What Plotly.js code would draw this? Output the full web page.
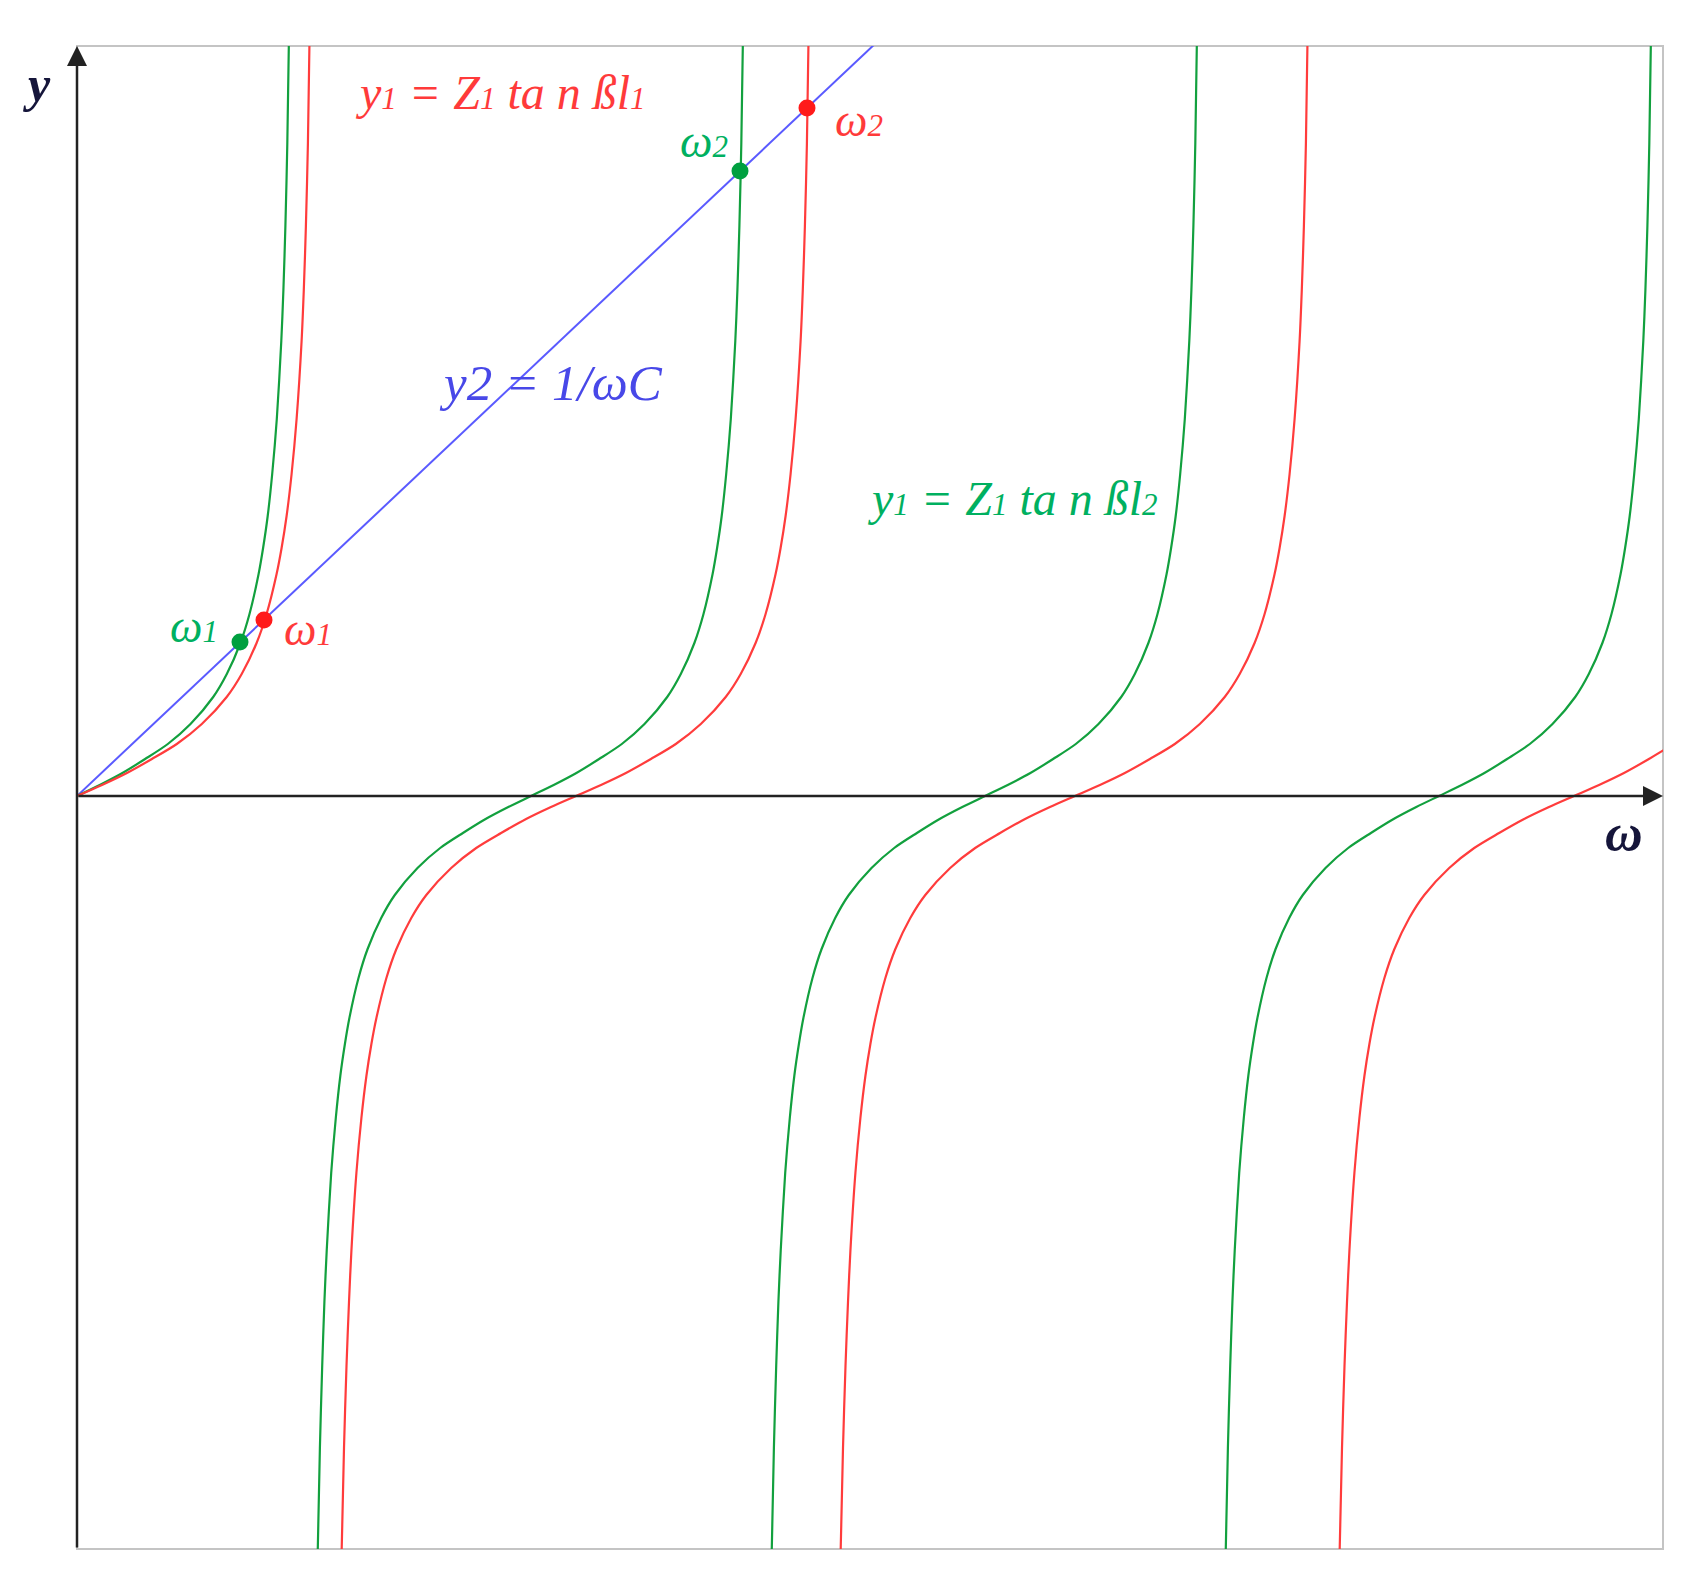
<!DOCTYPE html>
<html>
<head>
<meta charset="utf-8">
<script src="https://cdn.plot.ly/plotly-3.0.1.min.js"></script>
<style>html,body{margin:0;padding:0;background:#fff;}</style>
</head>
<body>
<div id="chart" style="width:1694px;height:1594px;"></div>
<script>
// ---- data (x: frequency ω, y: admittance, arbitrary units) ----
const lineX = [0, 800];
const lineY = [0, 754];

const green1X = [0, 22.7, 45.4, 68.1, 90.8, 113.5, 136.2, 149.8, 163.4, 172.5, 181.6, 186.1, 190.7, 195.2, 199.8, 204.3, 206.4, 208.4, 210.3, 212.0];
const green1Y = [0, 11, 23, 37, 52, 72, 99, 122, 153, 182, 222, 248, 280, 322, 377, 455, 506, 570, 652, 762];

const branchY = [-762, -652, -570, -506, -455, -377, -322, -280, -248, -222, -182, -153, -122, -99, -72, -52, -37, -23, -11, 0, 11, 23, 37, 52, 72, 99, 122, 153, 182, 222, 248, 280, 322, 377, 455, 506, 570, 652, 762];

const green2X = [240.6, 242.9, 245.2, 247.4, 249.7, 254.2, 258.8, 263.3, 267.9, 272.4, 281.5, 290.6, 304.2, 317.8, 340.5, 363.2, 385.9, 408.6, 431.3, 454, 476.7, 499.4, 522.1, 544.8, 567.5, 590.2, 603.8, 617.4, 626.5, 635.6, 640.1, 644.7, 649.2, 653.8, 658.3, 660.4, 662.4, 664.3, 666.0];
const green3X = [694.6, 696.9, 699.2, 701.4, 703.7, 708.2, 712.8, 717.3, 721.9, 726.4, 735.5, 744.6, 758.2, 771.8, 794.5, 817.2, 839.9, 862.6, 885.3, 908, 930.7, 953.4, 976.1, 998.8, 1021.5, 1044.2, 1057.8, 1071.4, 1080.5, 1089.6, 1094.1, 1098.7, 1103.2, 1107.8, 1112.3, 1114.4, 1116.4, 1118.3, 1120.0];
const green4X = [1148.6, 1150.9, 1153.2, 1155.4, 1157.7, 1162.2, 1166.8, 1171.3, 1175.9, 1180.4, 1189.5, 1198.6, 1212.2, 1225.8, 1248.5, 1271.2, 1293.9, 1316.6, 1339.3, 1362, 1384.7, 1407.4, 1430.1, 1452.8, 1475.5, 1498.2, 1511.8, 1525.4, 1534.5, 1543.6, 1548.1, 1552.7, 1557.2, 1561.8, 1566.3, 1568.4, 1570.4, 1572.3, 1574.0];

const red1X = [0, 25, 49.9, 74.9, 99.8, 124.8, 149.7, 164.7, 179.6, 189.6, 199.6, 204.6, 209.6, 214.6, 219.6, 224.6, 226.8, 228.9, 230.9, 232.6];
const red1Y = [0, 11, 23, 37, 52, 72, 99, 122, 153, 182, 222, 248, 280, 322, 377, 455, 506, 570, 652, 762];
const red2X = [264.5, 267.0, 269.5, 272.0, 274.4, 279.4, 284.4, 289.4, 294.4, 299.4, 309.4, 319.4, 334.3, 349.3, 374.2, 399.2, 424.1, 449.1, 474.0, 499, 524.0, 548.9, 573.9, 598.8, 623.8, 648.7, 663.7, 678.6, 688.6, 698.6, 703.6, 708.6, 713.6, 718.6, 723.6, 725.8, 727.9, 729.9, 731.6];
const red3X = [763.5, 766.0, 768.5, 771.0, 773.4, 778.4, 783.4, 788.4, 793.4, 798.4, 808.4, 818.4, 833.3, 848.3, 873.2, 898.2, 923.1, 948.1, 973.0, 998, 1023.0, 1047.9, 1072.9, 1097.8, 1122.8, 1147.7, 1162.7, 1177.6, 1187.6, 1197.6, 1202.6, 1207.6, 1212.6, 1217.6, 1222.6, 1224.8, 1226.9, 1228.9, 1230.6];
const red4X = [1262.5, 1265.0, 1267.5, 1270.0, 1272.4, 1277.4, 1282.4, 1287.4, 1292.4, 1297.4, 1307.4, 1317.4, 1332.3, 1347.3, 1372.2, 1397.2, 1422.1, 1447.1, 1472.0, 1497, 1522.0, 1546.9, 1571.9, 1596.8];
const red4Y = [-762, -652, -570, -506, -455, -377, -322, -280, -248, -222, -182, -153, -122, -99, -72, -52, -37, -23, -11, 0, 11, 23, 37, 52];

const greenDotX = [163, 663];
const greenDotY = [154, 625];
const redDotX = [187, 730];
const redDotY = [176, 688];

// ---- styles ----
const GREEN = '#12a03e';
const RED = '#ff3c3c';
const BLUE = '#5a5aff';
const GREEN_TXT = '#00b060';
const RED_TXT = '#ff3a3a';
const BLUE_TXT = '#4848e8';
const AXIS_TXT = '#15153a';
const FONT = '"Liberation Serif", "DejaVu Serif", serif';

function curve(x, y, color) {
  return {x: x, y: y, type: 'scatter', mode: 'lines', hoverinfo: 'skip',
          line: {color: color, width: 2.2, shape: 'spline', smoothing: 0.8}};
}

const traces = [
  {x: lineX, y: lineY, type: 'scatter', mode: 'lines', hoverinfo: 'skip',
   line: {color: BLUE, width: 2}},
  curve(green1X, green1Y, GREEN),
  curve(green2X, branchY, GREEN),
  curve(green3X, branchY, GREEN),
  curve(green4X, branchY, GREEN),
  curve(red1X, red1Y, RED),
  curve(red2X, branchY, RED),
  curve(red3X, branchY, RED),
  curve(red4X, red4Y, RED),
  {x: greenDotX, y: greenDotY, type: 'scatter', mode: 'markers', hoverinfo: 'skip',
   marker: {color: '#00a040', size: 17}},
  {x: redDotX, y: redDotY, type: 'scatter', mode: 'markers', hoverinfo: 'skip',
   marker: {color: '#ff1a1a', size: 17}}
];

function label(x, y, text, color, size, anchor) {
  return {x: x, y: y, xref: 'x', yref: 'y', text: text, showarrow: false,
          xanchor: anchor || 'center', yanchor: 'middle',
          font: {family: FONT, size: size, color: color, style: 'italic'}};
}
function sm(t, s) { return '<span style="font-size:' + s + 'px">' + t + '</span>'; }

const annotations = [
  // axes with arrowheads
  {x: 0, y: 750, ax: 0, ay: -753, xref: 'x', yref: 'y', axref: 'x', ayref: 'y', text: '',
   showarrow: true, arrowhead: 2, arrowsize: 1.6, arrowwidth: 2.5, arrowcolor: '#222'},
  {x: 1586, y: 0, ax: 0, ay: 0, xref: 'x', yref: 'y', axref: 'x', ayref: 'y', text: '',
   showarrow: true, arrowhead: 2, arrowsize: 1.6, arrowwidth: 2.5, arrowcolor: '#222'},
  // texts
  label(276, 704, 'y' + sm('1', 31) + ' = Z' + sm('1', 31) + ' ta n ßl' + sm('1', 31), RED_TXT, 48, 'left'),
  label(788, 298, 'y' + sm('1', 31) + ' = Z' + sm('1', 31) + ' ta n ßl' + sm('2', 31), GREEN_TXT, 48, 'left'),
  label(360, 413, 'y2 = 1/ωC', BLUE_TXT, 51, 'left'),
  label(627, 655, 'ω' + sm('2', 31), GREEN_TXT, 46),
  label(782, 676, 'ω' + sm('2', 31), RED_TXT, 46),
  label(117, 170, 'ω' + sm('1', 31), GREEN_TXT, 46),
  label(231, 167, 'ω' + sm('1', 31), RED_TXT, 46),
  {x: -0.025, y: 0.975, xref: 'paper', yref: 'paper', text: '<b>y</b>', showarrow: false,
   xanchor: 'center', yanchor: 'middle',
   font: {family: FONT, size: 50, color: AXIS_TXT, style: 'italic'}},
  {x: 1547, y: -36, xref: 'x', yref: 'y', text: '<b>ω</b>', showarrow: false,
   font: {family: FONT, size: 52, color: AXIS_TXT, style: 'italic'}}
];

const layout = {
  width: 1694, height: 1594,
  margin: {l: 77, r: 31, t: 46, b: 45, pad: 0},
  paper_bgcolor: '#ffffff', plot_bgcolor: '#ffffff',
  showlegend: false,
  xaxis: {range: [0, 1586], visible: false, fixedrange: true},
  yaxis: {range: [-753, 750], visible: false, fixedrange: true},
  shapes: [
    {type: 'rect', xref: 'paper', yref: 'paper', x0: 0, x1: 1, y0: 0, y1: 1,
     line: {color: '#c4c4c4', width: 2}, layer: 'below'}
  ],
  annotations: annotations
};

Plotly.newPlot('chart', traces, layout, {staticPlot: true, displayModeBar: false});
</script>
</body>
</html>
